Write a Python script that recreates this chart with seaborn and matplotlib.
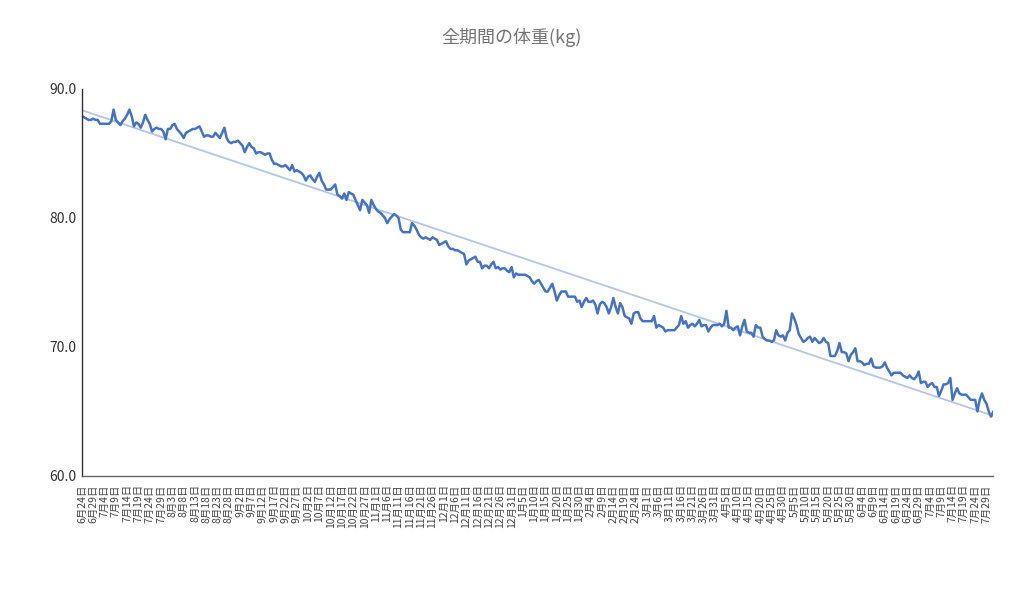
import pandas as pd
import matplotlib
matplotlib.use('Agg')
import matplotlib.pyplot as plt
import seaborn as sns

# daily weight (kg), 6/24 -> 8/1 of the next year
weights = [
    87.9, 87.8, 87.7, 87.6, 87.6, 87.7, 87.6, 87.6, 87.3, 87.3,
    87.3, 87.3, 87.3, 87.5, 88.4, 87.6, 87.4, 87.2, 87.5, 87.7,
    88.0, 88.4, 87.9, 87.1, 87.4, 87.3, 87.0, 87.4, 88.0, 87.6,
    87.3, 86.7, 86.9, 87.0, 86.9, 86.9, 86.7, 86.1, 86.9, 86.9,
    87.2, 87.3, 86.9, 86.7, 86.5, 86.2, 86.6, 86.7, 86.8, 86.9,
    86.9, 87.0, 87.1, 86.7, 86.3, 86.4, 86.4, 86.3, 86.3, 86.6,
    86.4, 86.2, 86.6, 87.0, 86.2, 85.9, 85.8, 85.9, 85.9, 86.0,
    85.8, 85.6, 85.1, 85.5, 85.8, 85.5, 85.4, 85.0, 85.1, 85.1,
    85.0, 84.9, 85.0, 85.0, 84.5, 84.2, 84.2, 84.1, 84.0, 84.0,
    84.1, 83.9, 83.7, 84.1, 83.6, 83.7, 83.6, 83.5, 83.3, 82.9,
    83.2, 83.3, 83.0, 82.8, 83.2, 83.5, 82.9, 82.6, 82.2, 82.2,
    82.2, 82.4, 82.6, 81.8, 81.7, 81.5, 81.9, 81.4, 82.0, 81.9,
    81.8, 81.4, 81.0, 80.6, 81.4, 81.2, 81.0, 80.4, 81.4, 81.0,
    80.7, 80.5, 80.4, 80.2, 80.0, 79.6, 79.9, 80.1, 80.3, 80.2,
    80.0, 79.1, 78.9, 78.9, 78.9, 78.9, 79.6, 79.4, 79.1, 78.7,
    78.5, 78.4, 78.5, 78.4, 78.3, 78.5, 78.4, 78.3, 77.9, 78.0,
    78.1, 78.2, 77.8, 77.6, 77.6, 77.5, 77.5, 77.4, 77.3, 77.2,
    76.4, 76.7, 76.8, 76.9, 77.0, 76.6, 76.6, 76.1, 76.3, 76.3,
    76.1, 76.4, 76.6, 76.1, 76.2, 76.0, 76.1, 76.1, 75.9, 75.8,
    76.2, 75.4, 75.7, 75.6, 75.6, 75.6, 75.6, 75.5, 75.4, 75.1,
    74.9, 75.1, 75.2, 74.9, 74.6, 74.3, 74.3, 74.6, 74.9, 74.3,
    73.6, 74.0, 74.3, 74.3, 74.3, 73.9, 73.9, 73.9, 73.9, 73.5,
    73.6, 73.1, 73.5, 73.8, 73.5, 73.5, 73.6, 73.3, 72.6, 73.3,
    73.5, 73.4, 73.1, 72.6, 73.1, 73.8, 73.1, 72.6, 73.4, 73.1,
    72.4, 72.3, 72.2, 71.8, 72.6, 72.7, 72.7, 72.2, 72.0, 72.0,
    72.0, 72.0, 72.0, 72.4, 71.5, 71.7, 71.6, 71.5, 71.2, 71.3,
    71.3, 71.3, 71.3, 71.5, 71.7, 72.4, 71.8, 72.0, 71.5, 71.7,
    71.8, 71.6, 71.8, 72.1, 71.6, 71.7, 71.7, 71.2, 71.5, 71.7,
    71.7, 71.7, 71.8, 71.6, 71.8, 72.8, 71.5, 71.5, 71.3, 71.5,
    71.6, 70.9, 71.6, 72.1, 71.2, 71.1, 71.1, 70.8, 71.7, 71.5,
    71.5, 70.8, 70.6, 70.5, 70.5, 70.4, 70.5, 71.3, 70.9, 70.8,
    70.9, 70.5, 71.1, 71.3, 72.6, 72.2, 71.7, 71.0, 70.7, 70.4,
    70.5, 70.7, 70.8, 70.4, 70.7, 70.5, 70.3, 70.4, 70.7, 70.4,
    70.3, 69.3, 69.3, 69.3, 69.7, 70.3, 69.6, 69.6, 69.5, 68.9,
    69.4, 69.6, 69.9, 68.9, 68.9, 68.8, 68.6, 68.7, 68.7, 69.1,
    68.5, 68.4, 68.4, 68.4, 68.5, 68.8, 68.4, 68.1, 67.8, 68.0,
    68.0, 68.0, 68.0, 67.8, 67.7, 67.6, 67.8, 67.6, 67.5, 67.7,
    68.1, 67.2, 67.3, 67.3, 66.9, 67.1, 67.2, 66.9, 66.9, 66.2,
    66.6, 67.1, 67.1, 67.2, 67.6, 65.9, 66.4, 66.8, 66.4, 66.3,
    66.3, 66.3, 66.1, 65.9, 65.9, 65.9, 65.0, 65.9, 66.4, 65.9,
    65.6, 65.0, 64.6, 65.0,
]
start_date = '2021-06-24'
y_ticks = [60, 70, 80, 90]
title = '全期間の体重(kg)'

dates = pd.date_range(start_date, periods=len(weights), freq='D')
df = pd.DataFrame({'day': range(len(weights)), 'weight': weights})
tick_pos = list(range(0, len(weights), 5))
tick_labels = [f'{dates[i].month}月{dates[i].day}日' for i in tick_pos]

sns.set_style('white')
plt.rcParams['font.family'] = ['Noto Sans CJK JP', 'DejaVu Sans']

fig, ax = plt.subplots(figsize=(10.24, 5.92), dpi=100)
fig.subplots_adjust(left=0.080, right=0.970, top=0.8497, bottom=0.196)

# linear trend line under the data
sns.regplot(x='day', y='weight', data=df, scatter=False, ci=None, ax=ax,
            line_kws={'color': '#b4c6e7', 'linewidth': 1.3, 'zorder': 1})
sns.lineplot(x='day', y='weight', data=df, ax=ax, color='#4472c4',
             linewidth=1.8, zorder=2)

ax.set_xlim(0, len(weights) - 1)
ax.set_ylim(y_ticks[0], y_ticks[-1])
ax.set_yticks(y_ticks)
ax.set_yticklabels([f'{v:.1f}' for v in y_ticks], fontsize=10, color='#333333')
ax.set_xticks(tick_pos)
ax.set_xticklabels(tick_labels, rotation=90, fontsize=7.5, color='#444444')
ax.tick_params(axis='both', length=0)
ax.tick_params(axis='x', pad=6)
ax.tick_params(axis='y', pad=4)
ax.set_xlabel('')
ax.set_ylabel('')

sns.despine(ax=ax)
ax.spines['left'].set_color('#333333')
ax.spines['bottom'].set_color('#666666')
ax.spines['left'].set_linewidth(1.0)
ax.spines['bottom'].set_linewidth(1.0)

fig.text(0.5, 0.936, title, ha='center', va='center', fontsize=13,
         color='#757575')

fig.savefig('out.png', dpi=100)
